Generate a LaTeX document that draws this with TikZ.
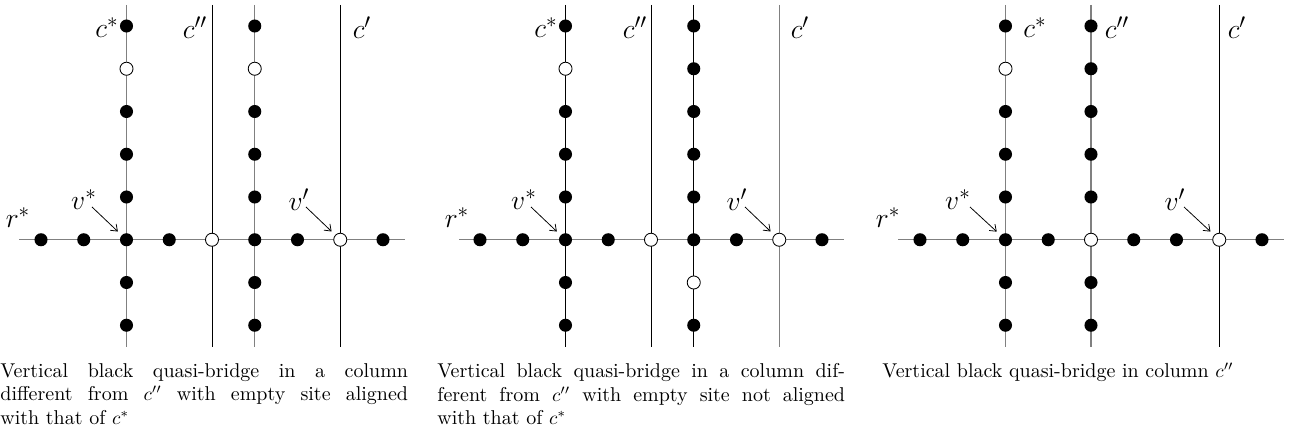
\documentclass[tikz,border=0pt]{standalone}
\usetikzlibrary{arrows.meta}
\tikzset{
  blk/.style={circle,fill=black,inner sep=0pt,minimum size=6.8pt},
  wht/.style={circle,draw=black,fill=white,inner sep=0pt,minimum size=6.8pt,line width=0.45pt},
  gline/.style={draw=black!50,line width=0.7pt},
  bline/.style={draw=black,line width=0.45pt},
  lbl/.style={inner sep=0pt,font=\fontsize{15}{17}\selectfont},
  ptr/.style={-{Straight Barb[length=3pt,width=4.5pt]},line width=0.4pt,shorten >=2.6pt},
  capt/.style={text width=212pt,align=justify,inner sep=0pt,anchor=north west,font=\fontsize{10.4}{12.3}\selectfont}
}
\begin{document}
\begin{tikzpicture}[x=0.52pt,y=-0.52pt]
\useasboundingbox (0,0) rectangle (1301,437);

% ---------------- Panel 1 ----------------
\begin{scope}[shift={(0,0)}]
  \foreach \i in {2,4,5,7} {
    \coordinate (a-t\i) at ({41+42.75*\i},5);
    \coordinate (a-b\i) at ({41+42.75*\i},347);
  }
  \coordinate (a-hl) at (19,239.75);
  \coordinate (a-hr) at (405,239.75);
  \draw[gline] (a-hl) -- (a-hr);
  \draw[gline] (a-t2) -- (a-b2);
  \draw[bline] (a-t4) -- (a-b4);
  \draw[gline] (a-t5) -- (a-b5);
  \draw[bline] (a-t7) -- (a-b7);
  \foreach \i/\s in {0/blk,1/blk,2/blk,3/blk,4/wht,5/blk,6/blk,7/wht,8/blk}
    \node[\s] (a-r\i) at ({41+42.75*\i},239.75) {};
  \foreach \j/\s in {0/blk,1/wht,2/blk,3/blk,4/blk,6/blk,7/blk}
    \node[\s] (a-p\j) at (126.5,{26+42.75*\j}) {};
  \foreach \j/\s in {0/blk,1/wht,2/blk,3/blk,4/blk,6/blk,7/blk}
    \node[\s] (a-q\j) at (254.75,{26+42.75*\j}) {};
  \node[lbl] (a-rs) at (18,218) {$r^*$};
  \node[lbl] (a-vs) at (84,200) {$v^*$};
  \node[lbl] (a-vp) at (299,200) {$v'$};
  \node[lbl] (a-cs) at (107,28) {$c^*$};
  \node[lbl] (a-cpp) at (195,28) {$c''$};
  \node[lbl] (a-cp) at (362,28) {$c'$};
  \coordinate (a-vsa) at (92,207);
  \coordinate (a-vpa) at (306,207);
  \draw[ptr] (a-vsa) -- (a-r2);
  \draw[ptr] (a-vpa) -- (a-r7);
\end{scope}
\node[capt] (a-cap) at (0,363) {Vertical black quasi-bridge in a column\linebreak different from $c''$ with empty site aligned\linebreak with that of $c^*$};

% ---------------- Panel 2 ----------------
\begin{scope}[shift={(439,0)}]
  \foreach \i in {2,4,5,7} {
    \coordinate (b-t\i) at ({41+42.75*\i},5);
    \coordinate (b-b\i) at ({41+42.75*\i},347);
  }
  \coordinate (b-hl) at (20,239.75);
  \coordinate (b-hr) at (405,239.75);
  \draw[gline] (b-hl) -- (b-hr);
  \draw[bline] (b-t2) -- (b-b2);
  \draw[bline] (b-t4) -- (b-b4);
  \draw[bline] (b-t5) -- (b-b5);
  \draw[gline] (b-t7) -- (b-b7);
  \foreach \i/\s in {0/blk,1/blk,2/blk,3/blk,4/wht,5/blk,6/blk,7/wht,8/blk}
    \node[\s] (b-r\i) at ({41+42.75*\i},239.75) {};
  \foreach \j/\s in {0/blk,1/wht,2/blk,3/blk,4/blk,6/blk,7/blk}
    \node[\s] (b-p\j) at (126.5,{26+42.75*\j}) {};
  \foreach \j/\s in {0/blk,1/blk,2/blk,3/blk,4/blk,6/wht,7/blk}
    \node[\s] (b-q\j) at (254.75,{26+42.75*\j}) {};
  \node[lbl] (b-rs) at (18,218) {$r^*$};
  \node[lbl] (b-vs) at (85,200) {$v^*$};
  \node[lbl] (b-vp) at (298,200) {$v'$};
  \node[lbl] (b-cs) at (107,28) {$c^*$};
  \node[lbl] (b-cpp) at (196,28) {$c''$};
  \node[lbl] (b-cp) at (361,28) {$c'$};
  \coordinate (b-vsa) at (92,207);
  \coordinate (b-vpa) at (306,207);
  \draw[ptr] (b-vsa) -- (b-r2);
  \draw[ptr] (b-vpa) -- (b-r7);
\end{scope}
\node[capt] (b-cap) at (437,363) {Vertical black quasi-bridge in a column dif-\linebreak ferent from $c''$ with empty site not aligned\linebreak with that of $c^*$};

% ---------------- Panel 3 ----------------
\begin{scope}[shift={(879,0)}]
  \foreach \i in {2,4,7} {
    \coordinate (c-t\i) at ({41+42.75*\i},5);
    \coordinate (c-b\i) at ({41+42.75*\i},347);
  }
  \coordinate (c-hl) at (19,239.75);
  \coordinate (c-hr) at (405,239.75);
  \draw[gline] (c-hl) -- (c-hr);
  \draw[gline] (c-t2) -- (c-b2);
  \draw[gline] (c-t4) -- (c-b4);
  \draw[bline] (c-t7) -- (c-b7);
  \foreach \i/\s in {0/blk,1/blk,2/blk,3/blk,4/wht,5/blk,6/blk,7/wht,8/blk}
    \node[\s] (c-r\i) at ({41+42.75*\i},239.75) {};
  \foreach \j/\s in {0/blk,1/wht,2/blk,3/blk,4/blk,6/blk,7/blk}
    \node[\s] (c-p\j) at (126.5,{26+42.75*\j}) {};
  \foreach \j/\s in {0/blk,1/blk,2/blk,3/blk,4/blk,6/blk,7/blk}
    \node[\s] (c-q\j) at (212,{26+42.75*\j}) {};
  \node[lbl] (c-rs) at (9,218) {$r^*$};
  \node[lbl] (c-vs) at (79,200) {$v^*$};
  \node[lbl] (c-vp) at (296,200) {$v'$};
  \node[lbl] (c-cs) at (156,28) {$c^*$};
  \node[lbl] (c-cpp) at (238,28) {$c''$};
  \node[lbl] (c-cp) at (358,28) {$c'$};
  \coordinate (c-vsa) at (91,207);
  \coordinate (c-vpa) at (305,207);
  \draw[ptr] (c-vsa) -- (c-r2);
  \draw[ptr] (c-vpa) -- (c-r7);
\end{scope}
\node[capt,align=left] (c-cap) at (882,363) {Vertical black quasi-bridge in column $c''$};
\end{tikzpicture}
\end{document}
